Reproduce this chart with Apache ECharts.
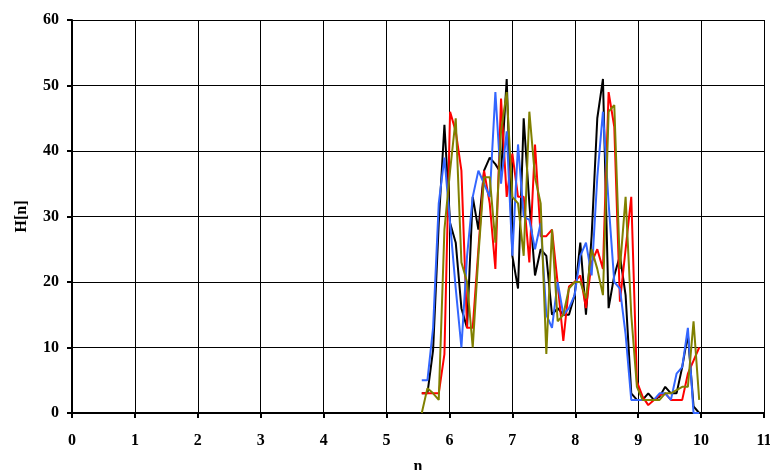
<!DOCTYPE html>
<html>
<head>
<meta charset="utf-8">
<script src="https://cdn.jsdelivr.net/npm/echarts@6/dist/echarts.min.js"></script>
<style>
  html, body { margin: 0; padding: 0; background: #fff; overflow: hidden; }
  #chart { width: 770px; height: 470px; }
</style>
</head>
<body>
<div id="chart"></div>
<script>
// Sample positions n shared by all four traces
const nValues = [5.56, 5.65, 5.74, 5.83, 5.92, 6.01, 6.10, 6.19, 6.28, 6.37,
                 6.46, 6.55, 6.64, 6.73, 6.82, 6.91, 7.00, 7.09, 7.18, 7.27,
                 7.36, 7.45, 7.54, 7.63, 7.72, 7.81, 7.90, 7.99, 8.08, 8.17,
                 8.26, 8.35, 8.44, 8.53, 8.62, 8.71, 8.80, 8.89, 8.98, 9.07,
                 9.16, 9.25, 9.34, 9.43, 9.52, 9.61, 9.70, 9.79, 9.88, 9.97];

// H[n] for each trace
const hBlack = [3, 3, 9.6, 29, 44, 29, 26, 16, 13, 33,
                28, 37, 39, 38, 36.6, 51, 24, 19, 45, 32,
                21, 25, 24, 15, 16, 15, 15, 18, 26, 15,
                27, 45, 51, 16, 21, 24, 18, 3, 2, 2,
                3, 2, 2.5, 4, 3, 3, 7, 12, 1, 0];
const hRed = [3, 3, 3, 3, 9, 46, 43, 37, 13, 13,
              25, 37, 32, 22, 48, 33, 39.6, 33, 33, 23,
              41, 27, 27, 28, 19.8, 11, 19.3, 20, 21, 16,
              23, 25, 22, 49, 43.7, 17, 25, 33, 4.8, 2.5,
              1.2, 2, 2.7, 3, 2, 2, 2, 6, 8, 10];
const hBlue = [5, 5, 13, 32, 39, 29, 19, 10, 24, 33,
               37, 35, 33, 49, 35, 43, 24, 41, 30, 29.5,
               25, 29, 15, 13, 20, 15, 16, 18, 24, 26,
               21, 36, 46, 32, 20, 19, 12, 2, 2, 2,
               2, 2, 3, 3, 2, 6, 7, 13, 0, 0];
const hOlive = [0, 3.8, 3, 2, 28, 37, 45, 23, 20, 10,
                24, 36, 36, 26, 43, 49, 33, 32, 24, 46,
                36, 32, 9, 28, 14, 15, 19, 20, 20, 17.5,
                25, 22, 18, 46, 47, 22, 33, 15, 4, 2,
                2, 2, 2, 3, 3, 3.5, 4, 4, 14, 2];

const traces = [
  { name: 'black', values: hBlack, color: '#000000' },
  { name: 'red',   values: hRed,   color: '#FF0000' },
  { name: 'blue',  values: hBlue,  color: '#3366FF' },
  { name: 'olive', values: hOlive, color: '#808000' }
];

const font = '"Liberation Serif", "Times New Roman", serif';

const chart = echarts.init(document.getElementById('chart'), null, { renderer: 'canvas' });

chart.setOption({
  animation: false,
  backgroundColor: '#ffffff',
  grid: { left: 72, right: 6, top: 20, bottom: 57, containLabel: false, outerBoundsMode: 'none' },
  xAxis: {
    type: 'value',
    min: 0, max: 11, interval: 1,
    name: 'n',
    nameLocation: 'middle',
    nameGap: 46,
    nameTextStyle: { fontFamily: font, fontWeight: 'bold', fontSize: 16, color: '#000' },
    axisLine: { show: true, onZero: false, lineStyle: { color: '#000', width: 2 } },
    axisTick: { show: true, length: 5, lineStyle: { color: '#000', width: 2 } },
    axisLabel: { margin: 20, fontFamily: font, fontWeight: 'bold', fontSize: 16, color: '#000' },
    splitLine: { show: true, lineStyle: { color: '#000', width: 1 } }
  },
  yAxis: {
    type: 'value',
    min: 0, max: 60, interval: 10,
    name: 'H[n]',
    nameLocation: 'middle',
    nameGap: 42,
    nameRotate: 90,
    nameTextStyle: { fontFamily: font, fontWeight: 'bold', fontSize: 16, color: '#000' },
    axisLine: { show: true, lineStyle: { color: '#000', width: 2 } },
    axisTick: { show: true, length: 5, lineStyle: { color: '#000', width: 2 } },
    axisLabel: { margin: 13, fontFamily: font, fontWeight: 'bold', fontSize: 16, color: '#000' },
    splitLine: { show: true, lineStyle: { color: '#000', width: 1 } }
  },
  series: traces.map(t => ({
    name: t.name,
    type: 'line',
    data: nValues.map((n, i) => [n, t.values[i]]),
    showSymbol: false,
    symbol: 'none',
    lineStyle: { color: t.color, width: 2 },
    itemStyle: { color: t.color }
  }))
});
</script>
</body>
</html>
